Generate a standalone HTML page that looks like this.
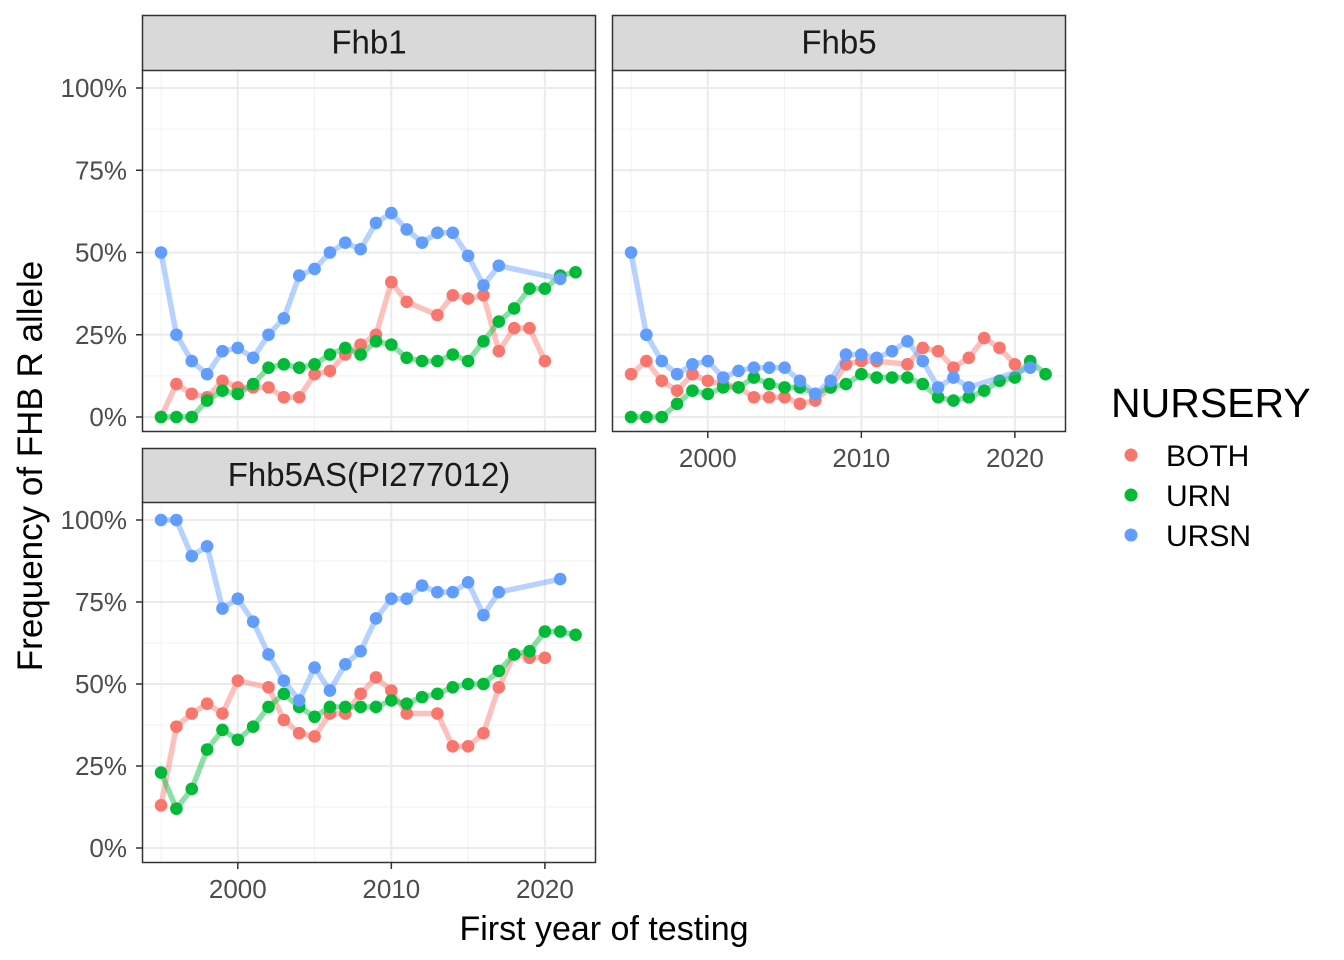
<!DOCTYPE html>
<html><head><meta charset="utf-8"><style>
body{margin:0;background:#fff}
svg{display:block;font-family:"Liberation Sans",Arial,sans-serif}
</style></head><body>
<svg id="c" width="1344" height="960"></svg>
<script>
const years = [];
for (let y = 1995; y <= 2022; y++) years.push(y);
const panels = ["Fhb1","Fhb5","Fhb5AS(PI277012)"];
const series = ["BOTH","URN","URSN"];
const colors = ["#F8766D","#00BA38","#619CFF"];
const yTicks = [0,25,50,75,100];
const yTickLabels = ["0%","25%","50%","75%","100%"];
const xTicks = [2000,2010,2020];
const N = null;
// Fhb1
const fhb1Both = [0,10,7,6,11,9,9,9,6,6,13,14,19,22,25,41,35,N,31,37,36,37,20,27,27,17,N,N];
const fhb1Urn  = [0,0,0,5,8,7,10,15,16,15,16,19,21,19,23,22,18,17,17,19,17,23,29,33,39,39,43,44];
const fhb1Ursn = [50,25,17,13,20,21,18,25,30,43,45,50,53,51,59,62,57,53,56,56,49,40,46,N,N,N,42,N];
// Fhb5
const fhb5Both = [13,17,11,8,13,11,10,9,6,6,6,4,5,9,16,17,17,N,16,21,20,15,18,24,21,16,N,N];
const fhb5Urn  = [0,0,0,4,8,7,9,9,12,10,9,9,7,9,10,13,12,12,12,10,6,5,6,8,11,12,17,13];
const fhb5Ursn = [50,25,17,13,16,17,12,14,15,15,15,11,7,11,19,19,18,20,23,17,9,12,9,N,N,N,15,N];
// Fhb5AS
const asBoth = [13,37,41,44,41,51,N,49,39,35,34,41,41,47,52,48,41,N,41,31,31,35,49,59,58,58,N,N];
const asUrn  = [23,12,18,30,36,33,37,43,47,43,40,43,43,43,43,45,44,46,47,49,50,50,54,59,60,66,66,65];
const asUrsn = [100,100,89,92,73,76,69,59,51,45,55,48,56,60,70,76,76,80,78,78,81,71,78,N,N,N,82,N];
const data = [[fhb1Both,fhb1Urn,fhb1Ursn],[fhb5Both,fhb5Urn,fhb5Ursn],[asBoth,asUrn,asUrsn]];

const NS="http://www.w3.org/2000/svg";
const svg=document.getElementById('c');
function el(t,a,p){const e=document.createElementNS(NS,t);for(const k in a)e.setAttribute(k,a[k]);(p||svg).appendChild(e);return e;}
const boxes=[{x:142,st:15,top:70,bot:432},{x:612,st:15,top:70,bot:432},{x:142,st:448,top:502,bot:863}];
const W=454;
const xMin=1993.76,xMax=2023.33;
boxes.forEach((b,pi)=>{
  const g=el('g',{});
  
  
  const sx=v=>b.x+(v-xMin)/(xMax-xMin)*W;
  const y0=b.bot-15, y100=b.top+18;
  const sy=v=>y0-(v/100)*(y0-y100);
  el('rect',{x:b.x,y:b.top,width:W,height:b.bot-b.top,fill:'#fff'},g);
  [12.5,37.5,62.5,87.5].forEach(v=>el('line',{x1:b.x,x2:b.x+W,y1:sy(v),y2:sy(v),stroke:'#f2f2f2','stroke-width':1},g));
  [1995,2005,2015].forEach(v=>el('line',{x1:sx(v),x2:sx(v),y1:b.top,y2:b.bot,stroke:'#f2f2f2','stroke-width':1},g));
  yTicks.forEach(v=>el('line',{x1:b.x,x2:b.x+W,y1:sy(v),y2:sy(v),stroke:'#ebebeb','stroke-width':2},g));
  xTicks.forEach(v=>el('line',{x1:sx(v),x2:sx(v),y1:b.top,y2:b.bot,stroke:'#ebebeb','stroke-width':2},g));
  data[pi].forEach((vals,si)=>{
    const pts=[];vals.forEach((v,i)=>{if(v!==null)pts.push([sx(years[i]),sy(v)]);});
    const pl=el('polyline',{points:pts.map(p=>p.join(',')).join(' '),fill:'none',stroke:colors[si],'stroke-opacity':0.45,'stroke-width':5.5,'stroke-linejoin':'round'},g);
    
    
    pts.forEach(p=>{
      const c=el('circle',{cx:p[0],cy:p[1],r:6.3,fill:colors[si]},g);
      
      
    });
  });
  el('rect',{x:b.x+0.5,y:b.top,width:W-1,height:b.bot-b.top-0.5,fill:'none',stroke:'#333','stroke-width':1.5},g);
  el('rect',{x:b.x+0.5,y:b.st+0.5,width:W-1,height:b.top-b.st,fill:'#d9d9d9',stroke:'#333','stroke-width':1.5},g);
  const st=el('text',{x:b.x+W/2,y:(b.st+b.top)/2+11,'text-anchor':'middle','font-size':33,fill:'#1a1a1a'},g);
  st.textContent=panels[pi];
  
  
  if(b.x===142){
    yTicks.forEach((v,i)=>{
      el('line',{x1:b.x-6,x2:b.x,y1:sy(v),y2:sy(v),stroke:'#333','stroke-width':1.5},g);
      const t=el('text',{x:b.x-15,y:sy(v)+9,'text-anchor':'end','font-size':26,fill:'#4d4d4d'},g);
      t.textContent=yTickLabels[i];
      
      
    });
  }
  if(pi!==0){
    xTicks.forEach(v=>{
      el('line',{x1:sx(v),x2:sx(v),y1:b.bot,y2:b.bot+6,stroke:'#333','stroke-width':1.5},g);
      const t=el('text',{x:sx(v),y:b.bot+35,'text-anchor':'middle','font-size':26,fill:'#4d4d4d'},g);
      t.textContent=v;
      
      
    });
  }
});
</script>
<div style="position:absolute;left:0;top:0;width:1344px;height:960px;pointer-events:none">
<svg width="1344" height="960" style="position:absolute;left:0;top:0">
<text x="42" y="466" transform="rotate(-90 42 466)" text-anchor="middle" font-size="35" fill="#000" font-family="Liberation Sans, sans-serif">Frequency of FHB R allele</text>
<text x="604" y="940" text-anchor="middle" font-size="34" fill="#000" font-family="Liberation Sans, sans-serif">First year of testing</text>
<g font-family="Liberation Sans, sans-serif">
<text x="1111" y="417" font-size="41" fill="#000">NURSERY</text>
<circle cx="1131" cy="455" r="6.5" fill="#F8766D"/>
<text x="1166" y="466" font-size="30" fill="#000">BOTH</text>
<circle cx="1131" cy="495" r="6.5" fill="#00BA38"/>
<text x="1166" y="506" font-size="30" fill="#000">URN</text>
<circle cx="1131" cy="535" r="6.5" fill="#619CFF"/>
<text x="1166" y="546" font-size="30" fill="#000">URSN</text>
</g>
</svg></div>
</body></html>
